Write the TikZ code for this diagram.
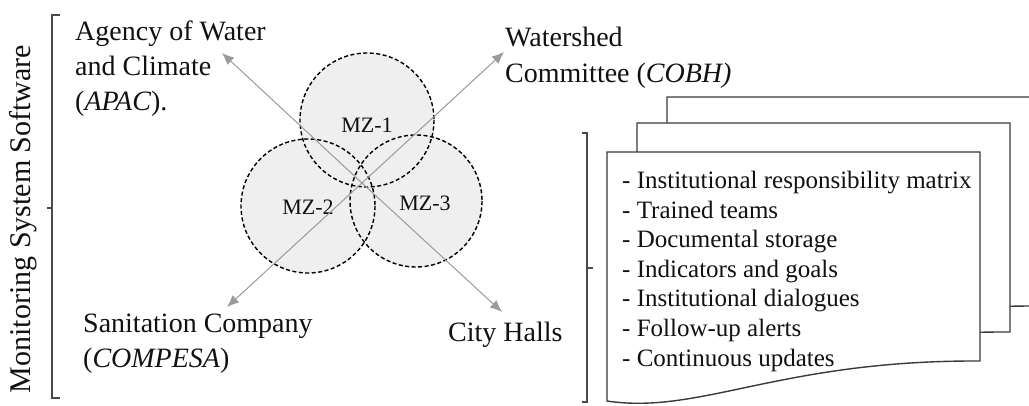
\documentclass[tikz,border=0pt]{standalone}
\usepackage{fontspec}
\setmainfont{Liberation Serif}
\usetikzlibrary{arrows.meta}
\definecolor{zonefill}{HTML}{EFEFEF}
\definecolor{arrowgray}{HTML}{9A9A9A}
\definecolor{brackgray}{HTML}{4A4A4A}
\definecolor{doccol}{HTML}{3A3A3A}
\definecolor{txt}{HTML}{111111}
\begin{document}
\begin{tikzpicture}[x=1pt,y=-1pt,
  lbl/.style={anchor=north west,inner sep=0pt,align=left,text=txt,font=\fontsize{28}{35}\selectfont},
  mzlbl/.style={inner sep=0pt,text=txt,font=\fontsize{22}{26}\selectfont},
  zonefillst/.style={circle,fill=zonefill,minimum size=134pt,inner sep=0pt},
  zoneborder/.style={draw=black,line width=1.4pt,dash pattern=on 4pt off 2.5pt},
  arr/.style={draw=arrowgray,line width=1pt,-{Latex[length=12pt,width=10pt]},arrowgray},
  brack/.style={draw=brackgray,line width=1.1pt},
  docst/.style={draw=doccol,fill=white,line width=1.4pt,line join=miter}]
\useasboundingbox (0,0) rectangle (1029,405);
\begin{scope}
\clip (0,0) rectangle (1029,405);
% left bracket and vertical label
\node[rotate=90,inner sep=0pt,text=txt,font=\fontsize{30}{36}\selectfont] (mss) at (23,219) {Monitoring System Software};
\draw[brack] (60,15) -- (52,15) -- (52,398) -- (60,398);
\draw[brack] (52,208) -- (47,208);
% zones
\node[zonefillst] (mz1) at (367,120) {};
\node[zonefillst] (mz2) at (308,206) {};
\node[zonefillst] (mz3) at (416,201) {};
\draw[zoneborder] (mz1.center) circle[radius=67];
\draw[zoneborder] (mz2.center) circle[radius=67];
\draw[zoneborder] (mz3.center) circle[radius=66];
\node[mzlbl] (l1) at (367,125) {MZ-1};
\node[mzlbl] (l2) at (308,207) {MZ-2};
\node[mzlbl] (l3) at (425,203) {MZ-3};
% arrows
\coordinate (c) at (362,183);
\coordinate (apacTip) at (222,53);
\coordinate (cityTip) at (502,312);
\coordinate (sanTip) at (227,307);
\coordinate (cobhTip) at (504,52);
\draw[arr] (c) -- (apacTip);
\draw[arr] (c) -- (cityTip);
\draw[arr] (c) -- (sanTip);
\draw[arr] (c) -- (cobhTip);
% labels
\node[lbl] (apac) at (75,21) {Agency of Water\\and Climate\\(\textit{APAC}).};
\node[lbl,font=\fontsize{28}{36}\selectfont] (cobh) at (505,27) {Watershed\\Committee (\textit{COBH)}};
\node[lbl] (san) at (83,314) {Sanitation Company\\(\textit{COMPESA})};
\node[lbl] (city) at (448,322) {City Halls};
% right bracket
\draw[brack] (582,133) -- (587,133) -- (587,402) -- (582,402);
\draw[brack] (587,268) -- (593,268);
% documents
\foreach \dx/\dy [count=\i] in {60/-55,30/-29,0/0}{
  \begin{scope}[shift={(607+\dx,152+\dy)}]
  \path[docst] (0,0) -- (373,0) -- (373,209) .. controls (173,208) and (93,263) .. (0,249) -- cycle;
  \end{scope}
}
\node[anchor=north west,inner sep=0pt,align=left,text=txt,font=\fontsize{25}{29.6}\selectfont] (items) at (622,171)
 {- Institutional responsibility matrix\\- Trained teams\\- Documental storage\\- Indicators and goals\\- Institutional dialogues\\- Follow-up alerts\\- Continuous updates};
\end{scope}
\end{tikzpicture}
\end{document}
